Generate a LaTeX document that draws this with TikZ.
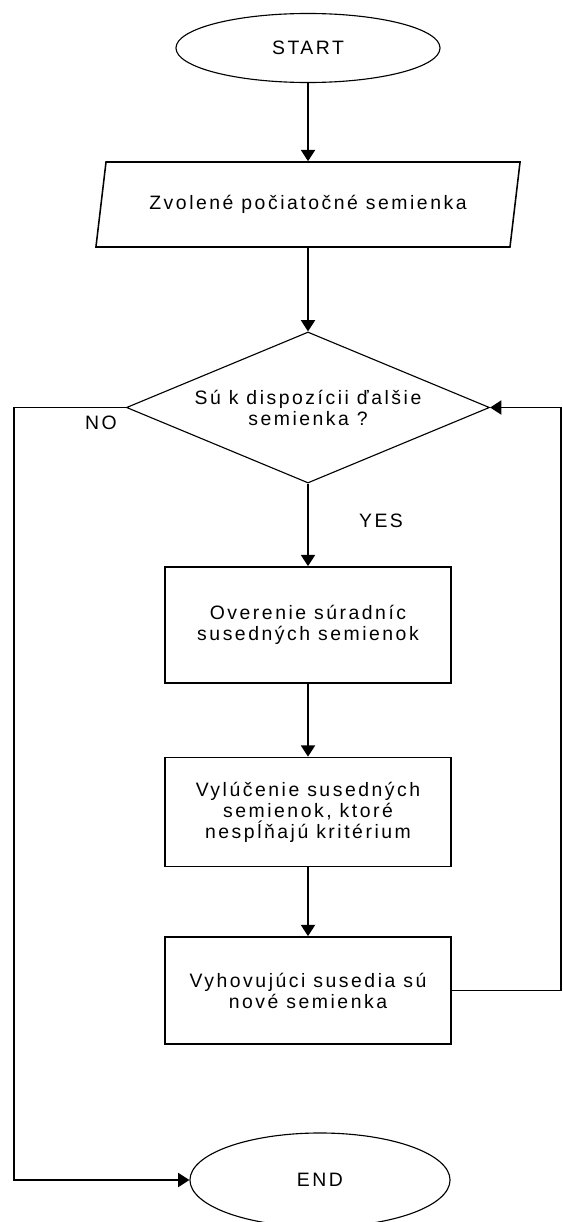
\documentclass[tikz,border=0pt]{standalone}
\usepackage{fontspec}
\setmainfont{Liberation Sans}[LetterSpace=13]
\usetikzlibrary{shapes.geometric, arrows.meta}

\begin{document}
\begin{tikzpicture}[x=0.025cm, y=-0.025cm,
  every node/.style={font=\fontsize{13.8}{15}\selectfont, align=center},
  flow/.style={draw, line width=1.2pt, -{Triangle[length=8pt, width=10pt]}},
  box/.style={draw, line width=1.2pt, rectangle, minimum width=7.15cm}]
\clip (0,0) rectangle (562,1222);

% Start and input
\node[draw, line width=0.8pt, ellipse, minimum width=6.6cm, minimum height=1.725cm] (start) at (308,48) {START};
\node[draw, line width=1.1pt, trapezium, trapezium left angle=70, trapezium right angle=110, trapezium stretches body, minimum width=10.6cm, minimum height=2.125cm, inner xsep=0pt] (seeds) at (308,204.5) {Zvolené počiatočné semienka};

% Decision
\node[draw, line width=0.8pt, diamond, aspect=2.4, inner sep=0pt, minimum width=9.075cm, minimum height=3.775cm] (check) at (308,407.5) {Sú k dispozícii ďalšie\\semienka ?};
\node (no) at (101,423) {NO};
\node (yes) at (381,521) {YES};

% Steps
\node[box, minimum height=2.9cm] (verify) at (308,625) {Overenie súradníc\\susedných semienok};
\node[box, minimum height=2.725cm] (exclude) at (308,812) {Vylúčenie susedných\\semienok, ktoré\\nespĺňajú kritérium};
\node[box, minimum height=2.675cm] (accept) at (308,990.5) {Vyhovujúci susedia sú\\nové semienka};

% End
\node[draw, line width=0.8pt, ellipse, minimum width=6.5cm, minimum height=2.35cm] (stop) at (320,1180) {END};

% Corners of the loops
\coordinate (rt) at (561,407.5);
\coordinate (lt) at (14,407.5);

% Arrows
\draw[flow] (start) -- (seeds);
\draw[flow] (seeds) -- (check);
\draw[flow] (check) -- (verify);
\draw[flow] (verify) -- (exclude);
\draw[flow] (exclude) -- (accept);
\draw[flow] (accept.east) -| (rt) -- (check.east);
\draw[flow] (check.west) -- (lt) |- (stop.west);
\end{tikzpicture}
\end{document}
